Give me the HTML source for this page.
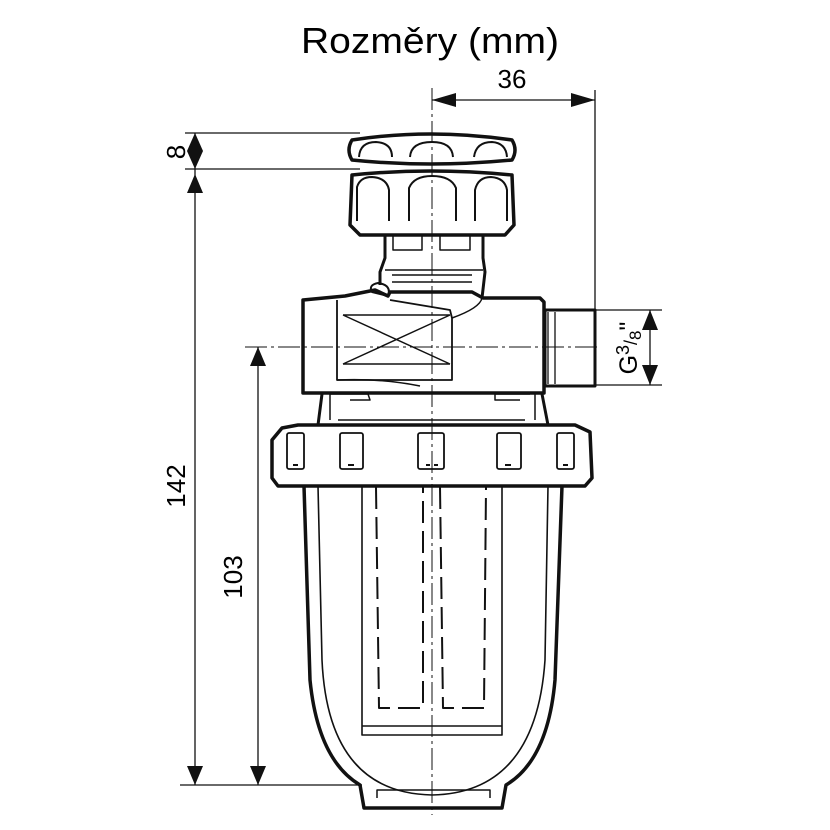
<!DOCTYPE html>
<html><head><meta charset="utf-8"><style>html,body{margin:0;padding:0;background:#fff}svg{display:block}</style></head><body>
<svg width="830" height="830" viewBox="0 0 830 830" xmlns="http://www.w3.org/2000/svg" font-family="Liberation Sans, sans-serif">
<rect width="830" height="830" fill="#fff"/>
<text x="430" y="53" font-size="36" text-anchor="middle" textLength="258" lengthAdjust="spacingAndGlyphs">Rozměry (mm)</text>
<text x="512" y="88" font-size="26" text-anchor="middle">36</text>
<g stroke="#111" stroke-width="1.3" fill="none">
<line x1="432" y1="88" x2="432" y2="815" stroke-dasharray="22,4,3,4" stroke-width="1"/>
<line x1="245" y1="347" x2="600" y2="347" stroke-dasharray="22,4,3,4" stroke-width="1"/>
<line x1="432" y1="100" x2="595" y2="100"/>
<line x1="595" y1="90" x2="595" y2="310"/>
<line x1="185" y1="133" x2="360" y2="133"/>
<line x1="185" y1="169" x2="360" y2="169"/>
<line x1="195" y1="133" x2="195" y2="785"/>
<line x1="180" y1="785" x2="362" y2="785"/>
<line x1="258" y1="347" x2="258" y2="785"/>
<line x1="595" y1="310" x2="662" y2="310"/>
<line x1="595" y1="385" x2="662" y2="385"/>
<line x1="650" y1="310" x2="650" y2="385"/>
</g>
<g fill="#111">
<polygon points="432,100 456,93 456,107"/><polygon points="595,100 571,93 571,107"/>
<polygon points="195,133 187,151 203,151"/><polygon points="195,169 187,151 203,151"/>
<polygon points="195,174 187,193 203,193"/>
<polygon points="195,785 187,766 203,766"/>
<polygon points="258,347 250,366 266,366"/><polygon points="258,785 250,766 266,766"/>
<polygon points="650,310 642,330 658,330"/><polygon points="650,385 642,365 658,365"/>
</g>
<text transform="translate(185,152) rotate(-90)" font-size="26" text-anchor="middle">8</text>
<text transform="translate(185,486) rotate(-90)" font-size="26" text-anchor="middle">142</text>
<text transform="translate(242,577) rotate(-90)" font-size="26" text-anchor="middle">103</text>
<text transform="translate(637,348) rotate(-90)" font-size="25" text-anchor="middle">G<tspan font-size="18" dy="-8">3</tspan><tspan font-size="18" dy="8">/</tspan><tspan font-size="17" dy="4">8</tspan><tspan dy="-4">"</tspan></text>
<g stroke="#111" fill="none" stroke-linejoin="round">
<path d="M352,140 Q430,128 512,140 Q518,150 512,160 Q430,168 352,160 Q346,150 352,140Z" stroke-width="3.5"/>
<path d="M359,157 Q360,142 376,142 Q392,143 392,157 M410,157 Q411,142 432,142 Q452,142 453,157 M474,157 Q476,142 492,142 Q506,143 507,157" stroke-width="2"/>
<path d="M352,175 Q430,167 512,175 L514,225 L505,235 L360,235 L350,225Z" stroke-width="3.5"/>
<path d="M357,221 L357,187 Q360,177 372,177 Q387,178 389,190 L389,221 M409,221 L409,188 Q414,176 432,176 Q451,176 456,188 L456,221 M475,221 L475,190 Q478,177 491,177 Q505,178 507,190 L507,221" stroke-width="2"/>
<path d="M385,236 L385,258 L380,272 L380,285 M483,236 L483,258 L485,272 L482,298" stroke-width="3"/>
<path d="M393,236 L393,250 L422,250 L422,236 M440,236 L440,250 L470,250 L470,236 M385,270 L483,270 M392,275 L472,275 M392,282 L472,282" stroke-width="1.5"/>
<path d="M378,283 Q368,285 372,292 L388,296 Q392,285 378,283Z" stroke-width="2"/>
<path d="M303,300 L345,296 L375,290 L388,296 L390,292 L472,292 L483,298 L540,298 L544,302 L544,393 L303,393Z" stroke-width="3.5"/>
<path d="M337,300 L337,380 L452,380 L452,318 L450,310 L390,300" stroke-width="1.8"/>
<path d="M343,315 L450,315 M343,364 L450,364 M343,315 L450,364 M343,364 L450,315" stroke-width="1.5"/>
<path d="M337,380 Q380,378 420,386 M452,318 Q480,308 482,298" stroke-width="1.5"/>
<path d="M545,310 L595,310 L595,386 L545,386Z" stroke-width="3"/>
<path d="M548,312 L548,384 M555,312 L555,384" stroke-width="1.3"/>
<path d="M322,394 L318,425 M542,394 L548,425" stroke-width="3"/>
<path d="M330,394 L330,420 M535,394 L535,420 M338,420 L525,420 M330,394 L368,394 L370,400 L350,400 M530,394 L495,394 L495,400 L520,400" stroke-width="1.5"/>
<path d="M282,428 L298,425 L575,425 L590,432 L592,478 L585,486 L278,486 L272,478 L272,440Z" stroke-width="3.5"/>
<g stroke-width="1.8">
<rect x="287" y="433" width="17" height="36" rx="2"/><rect x="340" y="433" width="23" height="36" rx="2"/>
<rect x="418" y="433" width="26" height="36" rx="2"/><rect x="497" y="433" width="24" height="36" rx="2"/>
<rect x="557" y="433" width="17" height="36" rx="2"/>
<path d="M293,465 h5 M348,465 h6 M426,465 h4 M434,465 h4 M505,465 h6 M563,465 h5" stroke-width="2"/>
</g>
<path d="M304,486 L310,680 Q318,760 360,785 L364,808 L502,808 L506,785 Q548,760 555,680 L562,486" stroke-width="3.5"/>
<path d="M318,486 L322,660 Q328,793 432,795 Q536,793 545,660 L548,486" stroke-width="1.6"/>
<path d="M377,798 L377,790 L490,790 L490,798" stroke-width="1.5"/>
<path d="M362,486 L362,735 L502,735 L502,486 M362,726 L502,726" stroke-width="1.6"/>
<g stroke-width="2" stroke-dasharray="22,8">
<path d="M376,487 L379,708 L423,708 L423,487"/>
<path d="M440,487 L443,708 L484,708 L486,487"/>
</g>
</g>
</svg>
</body></html>
